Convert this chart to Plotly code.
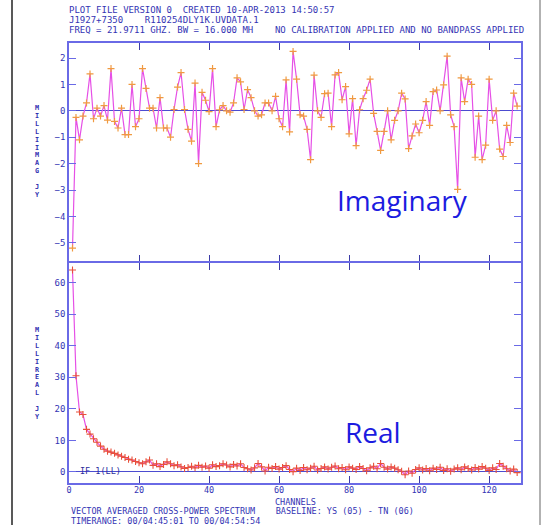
import plotly.graph_objects as go

# Spectrum channels and visibility components (milli-Jy)
channels = list(range(1, 129))

imag_mjy = [
    -5.2, -0.25, -1.1, -0.2, 0.3, 1.4, -0.3, 0.1, -0.2, 0.2,
    -0.35, 1.6, -0.4, -0.65, 0.1, -0.9, -0.9, 1.0, -0.6, -0.3,
    1.6, 0.85, 0.1, 0.1, -0.65, 0.5, -0.65, -0.65, -1.0, 0.05,
    0.9, 1.45, 0.05, -0.7, -1.15, 1.05, -2.0, 0.7, 0.4, -0.03,
    1.6, -0.6, 0.04, 0.2, 0.0, -0.05, 0.3, 1.25, 1.1, 0.05,
    0.8, 0.5, 0.0, -0.2, -0.15, 0.3, 0.3, 0.0, 0.55, -0.3,
    -0.6, 1.17, -0.8, 2.25, 1.2, -0.15, -0.2, -0.7, -1.85, 1.35,
    0.0, -0.25, 0.65, 0.67, -0.6, 1.36, 1.45, 0.42, 0.92, -0.87,
    0.46, -1.32, 0.04, 0.46, 0.78, 1.2, -0.1, -0.78, -1.5, -0.78,
    0.0, -1.1, -0.36, 0.0, 0.67, 0.45, -1.43, -0.95, -0.5, -0.83,
    -0.36, 0.35, -0.55, 0.73, 0.79, 0.0, 0.98, 2.07, -0.15, -0.6,
    -2.98, 1.25, 0.35, 1.2, 1.0, -1.76, -0.2, -1.85, -1.3, 1.2,
    -0.36, 0.0, -1.45, -1.73, -0.55, -1.2, 0.67, 0.18,
]

real_mjy = [
    64.0, 30.5, 19.0, 18.2, 13.5, 12.0, 10.5, 9.4, 8.2, 7.2,
    6.6, 6.3, 5.9, 5.4, 5.0, 4.6, 4.0, 3.8, 3.3, 2.9,
    2.6, 3.2, 3.8, 2.1, 2.6, 1.7, 2.4, 3.2, 2.6, 2.0,
    2.3, 1.6, 1.1, 1.4, 1.8, 1.3, 2.1, 1.5, 1.9, 1.2,
    2.3, 1.7, 2.0, 2.6, 2.2, 1.6, 2.4, 1.9, 2.6, 1.4,
    1.0, 0.6, 1.3, 2.7, 1.6, 0.3, 1.5, 1.1, 1.7, 0.9,
    1.4, 2.0, 0.8, 0.1, 1.2, 0.5, 1.4, 0.7, 1.2, 1.8,
    0.6, 1.1, 1.6, 0.9, 1.5, 1.9, 1.0, 1.4, 0.7, 1.6,
    1.2, 0.8, 1.7, 1.1, 0.4, 1.3, 1.8, 1.0, 2.7, 1.5,
    0.9, 1.6, 1.2, 0.7, 0.2, -0.9, 0.3, -0.4, 0.8, 1.3,
    0.6, 1.1, 0.4, 1.2, 0.8, 1.5, 0.5, 1.0, 0.2, 0.9,
    1.3, 0.7, 1.6, 1.1, 0.6, 1.4, 0.9, 1.7, 1.2, 0.5,
    1.3, 0.8, 2.7, 1.8, 1.0, 0.3, 0.9, -0.2,
]

x_ticks = [0, 20, 40, 60, 80, 100, 120]
imag_ticks = [-5, -4, -3, -2, -1, 0, 1, 2]
real_ticks = [0, 10, 20, 30, 40, 50, 60]

header_lines = [
    "PLOT FILE VERSION 0  CREATED 10-APR-2013 14:50:57",
    "J1927+7350    R110254DLY1K.UVDATA.1",
    "FREQ = 21.9711 GHZ. BW = 16.000 MH    NO CALIBRATION APPLIED AND NO BANDPASS APPLIED",
]
footer_lines = [
    "VECTOR AVERAGED CROSS-POWER SPECTRUM    BASELINE: YS (05) - TN (06)",
    "TIMERANGE: 00/04:45:01 TO 00/04:54:54",
]

W, H = 544, 525
ML, MR, MT, MB = 69, 23, 43, 42
PW, PH = W - ML - MR, H - MT - MB
SPLIT = (483 - 262) / PH
HALF_LINE = 0.75 / PH


def px(x):
    return (x - ML) / PW


def py(y):
    return (H - MB - y) / PH


AXIS = "#6a6ae6"
TICK = "#3c3ca8"
TEXT = "#3434b4"
LINE = "#e650e6"
MONO = "DejaVu Sans Mono"

fig = go.Figure()
fig.add_trace(go.Scatter(
    x=channels, y=imag_mjy, xaxis="x", yaxis="y", mode="lines+markers",
    line=dict(color=LINE, width=1.2),
    marker=dict(symbol="cross-thin", size=5, line=dict(color="#f09a40", width=1.2)),
    showlegend=False, hoverinfo="skip",
))
fig.add_trace(go.Scatter(
    x=channels, y=real_mjy, xaxis="x2", yaxis="y2", mode="lines+markers",
    line=dict(color=LINE, width=1.2),
    marker=dict(symbol="cross-thin", size=5, line=dict(color="#e8503a", width=1.1)),
    showlegend=False, hoverinfo="skip",
))

xcommon = dict(
    range=[0, 129.1], tickvals=x_ticks, ticks="inside", ticklen=7, tickwidth=1,
    tickcolor=TICK, mirror="ticks", showline=True, linecolor=AXIS, linewidth=1.5,
    showgrid=False, zeroline=False,
    tickfont=dict(family=MONO, size=8.5, color=TEXT),
)
ycommon = dict(
    ticks="inside", ticklen=7, tickwidth=1, tickcolor=AXIS, mirror="ticks",
    showline=True, linecolor=AXIS, linewidth=1.5, showgrid=False,
    zeroline=True, zerolinecolor="#4c4cd0", zerolinewidth=1,
    tickfont=dict(family=MONO, size=9, color=TEXT),
)

annotations = []
for i, t in enumerate(header_lines):
    annotations.append(dict(
        text=t, x=px(67), y=py(10 + 10 * i), xref="paper", yref="paper",
        xanchor="left", yanchor="middle", showarrow=False,
        font=dict(family=MONO, size=9, color=TEXT),
    ))
annotations.append(dict(
    text="CHANNELS", x=px(295), y=py(501.5), xref="paper", yref="paper",
    xanchor="center", yanchor="middle", showarrow=False,
    font=dict(family=MONO, size=8.5, color=TEXT),
))
for i, t in enumerate(footer_lines):
    annotations.append(dict(
        text=t, x=px(69), y=py(511 + 9.5 * i), xref="paper", yref="paper",
        xanchor="left", yanchor="middle", showarrow=False,
        font=dict(family=MONO, size=8.5, color=TEXT),
    ))

# Stacked upright axis titles
for label, y0 in (("MILLIIMAG JY", 108), ("MILLIREAL JY", 330)):
    for k, ch in enumerate(label):
        if ch == " ":
            continue
        annotations.append(dict(
            text=ch, x=px(37), y=py(y0 + 7.9 * k), xref="paper", yref="paper",
            xanchor="center", yanchor="middle", showarrow=False,
            font=dict(family=MONO, size=6.8, color="#3030b0", weight="bold"),
        ))

annotations.append(dict(
    text="IF 1(LL)", x=px(78), y=py(471), xref="paper", yref="paper",
    xanchor="left", yanchor="middle", showarrow=False,
    font=dict(family=MONO, size=8.5, color="#2c2c9c"),
))
annotations.append(dict(
    text="Imaginary", x=px(402), y=py(200), xref="paper", yref="paper",
    xanchor="center", yanchor="middle", showarrow=False,
    font=dict(family="Open Sans", size=28, color="#1c1ce0"),
))
annotations.append(dict(
    text="Real", x=px(373), y=py(432), xref="paper", yref="paper",
    xanchor="center", yanchor="middle", showarrow=False,
    font=dict(family="Open Sans", size=28, color="#1c1ce0"),
))

shapes = [
    dict(type="line", xref="paper", yref="paper", x0=px(12), x1=px(12),
         y0=py(0), y1=py(526), line=dict(color="#222222", width=1.5)),
    dict(type="line", xref="paper", yref="paper", x0=px(540), x1=px(540),
         y0=py(0), y1=py(526), line=dict(color="#999999", width=1.5)),
]

xaxis2 = dict(domain=[0, 1], anchor="y2", showticklabels=True, **xcommon)

fig.update_layout(
    width=W, height=H,
    margin=dict(l=ML, r=MR, t=MT, b=MB),
    paper_bgcolor="white", plot_bgcolor="white",
    xaxis=dict(domain=[0, 1], anchor="y", showticklabels=False, **xcommon),
    yaxis=dict(domain=[SPLIT + HALF_LINE, 1], anchor="x", range=[-5.7, 2.57],
               tickvals=imag_ticks, **ycommon),
    xaxis2=xaxis2,
    yaxis2=dict(domain=[0, SPLIT - HALF_LINE], anchor="x2", range=[-3.5, 66.3],
                tickvals=real_ticks, **ycommon),
    annotations=annotations,
    shapes=shapes,
)

# pull the channel labels slightly closer to the axis
try:
    fig.update_layout(xaxis2_ticklabelstandoff=-2)
except ValueError:
    pass

fig.write_html("out.html")
